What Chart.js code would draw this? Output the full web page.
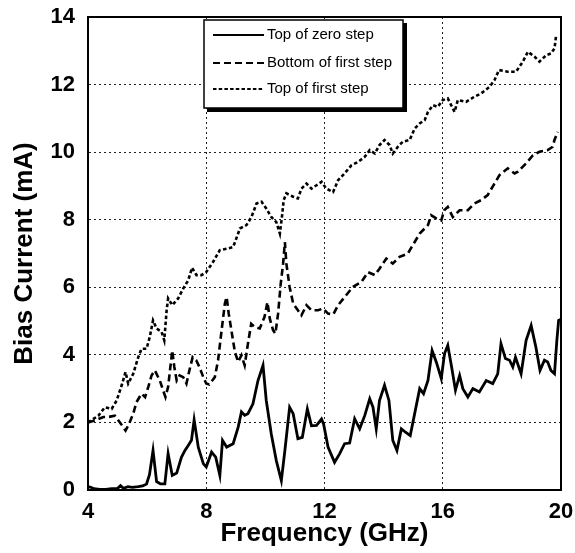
<!DOCTYPE html>
<html>
<head>
<meta charset="utf-8">
<script src="https://cdn.jsdelivr.net/npm/chart.js@4/dist/chart.umd.min.js"></script>
<style>
  html, body { margin: 0; padding: 0; background: #fff; }
  #wrap { width: 575px; height: 553px; }
</style>
</head>
<body>
<div id="wrap"><canvas id="c" width="575" height="553"></canvas></div>
<script>
// ---- Data ----
const seriesLabels = ["Top of zero step", "Bottom of first step", "Top of first step"];
const xTicks = [4, 8, 12, 16, 20];
const yTicks = [0, 2, 4, 6, 8, 10, 12, 14];

const zeroTopFreq = [4.0,4.1,4.2,4.4,4.6,4.8,5.0,5.1,5.2,5.35,5.5,5.7,5.85,5.98,6.08,6.2,6.32,6.45,6.6,6.71,6.85,7.0,7.16,7.28,7.39,7.5,7.59,7.73,7.9,8.0,8.18,8.32,8.46,8.55,8.69,8.91,9.08,9.19,9.3,9.41,9.58,9.75,9.92,10.03,10.2,10.37,10.54,10.66,10.82,10.94,11.1,11.25,11.42,11.56,11.73,11.9,11.97,12.12,12.34,12.51,12.68,12.85,13.02,13.19,13.36,13.53,13.64,13.75,13.86,14.03,14.18,14.31,14.45,14.6,14.74,14.9,15.05,15.22,15.35,15.5,15.64,15.78,15.95,16.06,16.17,16.29,16.43,16.57,16.68,16.85,17.02,17.24,17.47,17.69,17.86,17.97,18.12,18.26,18.37,18.46,18.65,18.82,18.99,19.15,19.29,19.44,19.55,19.66,19.78,19.86,19.92,20.0];
const zeroTopVal  = [0.10,0.08,0.04,0.02,0.02,0.04,0.05,0.13,0.05,0.10,0.08,0.10,0.12,0.18,0.45,1.17,0.25,0.18,0.18,1.08,0.43,0.50,0.97,1.17,1.32,1.47,2.08,1.27,0.78,0.68,1.12,0.97,0.43,1.47,1.27,1.37,1.86,2.31,2.21,2.26,2.55,3.24,3.69,2.65,1.66,0.87,0.28,1.17,2.45,2.26,1.52,1.56,2.40,1.90,1.91,2.10,1.95,1.27,0.82,1.07,1.37,1.39,2.11,1.81,2.20,2.70,2.45,1.81,2.65,3.10,2.65,1.47,1.17,1.81,1.71,1.61,2.26,3.00,2.85,3.24,4.13,3.79,3.30,4.04,4.28,3.69,2.95,3.39,3.00,2.75,3.00,2.90,3.24,3.15,3.44,4.33,3.89,3.84,3.64,3.93,3.44,4.43,4.87,4.23,3.54,3.84,3.79,3.54,3.44,4.43,5.02,5.05];

const firstBottomFreq = [4.0,4.24,4.52,4.69,4.91,5.08,5.19,5.27,5.39,5.53,5.64,5.81,5.93,6.04,6.15,6.26,6.43,6.54,6.62,6.71,6.85,6.92,7.0,7.1,7.22,7.33,7.43,7.54,7.66,7.77,7.9,8.0,8.1,8.29,8.4,8.52,8.63,8.69,8.76,8.85,8.97,9.08,9.19,9.3,9.41,9.52,9.64,9.81,9.97,10.07,10.15,10.26,10.34,10.43,10.52,10.6,10.66,10.71,10.82,10.94,11.1,11.22,11.39,11.56,11.78,11.95,12.12,12.3,12.46,12.68,12.96,13.25,13.47,13.7,13.86,14.09,14.31,14.54,14.82,15.05,15.22,15.5,15.61,15.78,15.95,16.05,16.17,16.34,16.57,16.85,17.07,17.3,17.52,17.75,17.92,18.2,18.43,18.54,18.82,19.05,19.27,19.55,19.72,19.78,19.89];
const firstBottomVal  = [2.00,2.06,2.16,2.16,2.20,2.00,1.86,1.76,1.96,2.26,2.60,2.85,2.75,3.05,3.39,3.54,3.24,2.95,2.75,3.05,4.13,3.64,3.24,3.39,3.34,3.15,3.54,3.93,3.84,3.64,3.34,3.15,3.12,3.34,3.84,4.73,5.52,5.71,5.22,4.73,4.08,3.79,3.99,3.69,4.33,4.92,4.82,4.78,5.12,5.56,5.07,4.73,4.63,5.22,6.11,6.70,7.34,6.70,6.01,5.52,5.32,5.17,5.47,5.32,5.32,5.37,5.22,5.20,5.47,5.71,6.01,6.16,6.45,6.36,6.55,6.85,6.70,6.90,7.00,7.34,7.59,7.84,8.13,8.04,7.98,8.28,8.38,8.08,8.28,8.28,8.48,8.58,8.73,9.07,9.32,9.52,9.37,9.42,9.67,9.91,10.01,10.06,10.16,10.36,10.60];

const firstTopFreq = [4.0,4.35,4.57,4.8,4.97,5.14,5.27,5.36,5.53,5.7,5.81,5.98,6.09,6.2,6.32,6.49,6.58,6.66,6.71,6.85,7.05,7.22,7.39,7.52,7.67,7.84,8.0,8.23,8.46,8.74,8.91,9.14,9.36,9.53,9.7,9.87,10.03,10.2,10.37,10.49,10.56,10.62,10.71,10.94,11.1,11.22,11.39,11.56,11.73,11.9,12.06,12.29,12.46,12.68,12.91,13.13,13.36,13.53,13.7,13.86,14.03,14.2,14.31,14.48,14.65,14.88,15.05,15.22,15.39,15.5,15.67,15.83,16.0,16.17,16.4,16.51,16.79,17.07,17.3,17.58,17.75,17.9,18.2,18.48,18.71,18.88,19.1,19.27,19.5,19.66,19.78,19.83];
const firstTopVal  = [2.00,2.20,2.45,2.40,2.65,3.10,3.49,3.15,3.44,3.93,4.18,4.18,4.53,5.02,4.78,4.68,4.43,5.32,5.67,5.47,5.67,5.96,6.21,6.58,6.36,6.36,6.45,6.75,7.10,7.15,7.19,7.74,7.84,8.08,8.48,8.53,8.33,8.08,7.93,7.59,8.08,8.58,8.78,8.68,8.63,8.92,9.07,8.92,9.02,9.12,8.92,8.82,9.17,9.37,9.61,9.71,9.86,10.06,9.96,10.21,10.36,10.21,9.96,10.16,10.31,10.36,10.70,10.85,10.95,11.19,11.39,11.34,11.54,11.59,11.19,11.54,11.49,11.64,11.74,11.93,12.13,12.43,12.38,12.38,12.68,12.97,12.83,12.68,12.87,12.92,13.07,13.42];

const pts = (xs, ys) => xs.map((x, i) => ({x: x, y: ys[i]}));

const FONT = "'Liberation Sans', Arial, Helvetica, sans-serif";

const framePlugin = {
  id: 'frame',
  beforeDatasetsDraw(chart) {
    const a = chart.chartArea, ctx = chart.ctx;
    ctx.save();
    ctx.strokeStyle = '#000';
    ctx.lineWidth = 2;
    ctx.strokeRect(a.left, a.top, a.right - a.left, a.bottom - a.top);
    ctx.restore();
  }
};

const legendPlugin = {
  id: 'boxLegend',
  afterDraw(chart) {
    const ctx = chart.ctx;
    const bx = 204, by = 20, bw = 199, bh = 88;
    ctx.save();
    ctx.fillStyle = '#000';
    ctx.fillRect(bx + 3, by + 3, bw + 1, bh + 1);
    ctx.fillStyle = '#fff';
    ctx.fillRect(bx, by, bw, bh);
    ctx.strokeStyle = '#000';
    ctx.lineWidth = 1.5;
    ctx.strokeRect(bx, by, bw, bh);
    const rowsY = [35, 63, 89];
    chart.data.datasets.forEach((ds, i) => {
      const y = rowsY[i];
      ctx.beginPath();
      ctx.setLineDash(ds.legendDash || []);
      ctx.lineWidth = 2;
      ctx.strokeStyle = '#000';
      ctx.moveTo(213, y);
      ctx.lineTo(264, y);
      ctx.stroke();
      ctx.setLineDash([]);
      ctx.fillStyle = '#000';
      ctx.font = "15px " + FONT;
      ctx.textBaseline = 'middle';
      ctx.textAlign = 'left';
      ctx.fillText(ds.label, 267, y);
    });
    ctx.restore();
  }
};

function zeroPad(s) { s.paddingTop = 0; s.paddingBottom = 0; s.paddingLeft = 0; s.paddingRight = 0; }

new Chart(document.getElementById('c'), {
  type: 'line',
  data: {
    datasets: [
      { label: seriesLabels[0], data: pts(zeroTopFreq, zeroTopVal), borderColor: '#000', borderWidth: 2.8, pointRadius: 0, tension: 0, fill: false, legendDash: [] },
      { label: seriesLabels[1], data: pts(firstBottomFreq, firstBottomVal), borderColor: '#000', borderWidth: 2.6, borderDash: [7, 4], pointRadius: 0, tension: 0, fill: false, legendDash: [7, 4] },
      { label: seriesLabels[2], data: pts(firstTopFreq, firstTopVal), borderColor: '#000', borderWidth: 2.6, borderDash: [3.5, 2.5], pointRadius: 0, tension: 0, fill: false, legendDash: [3.5, 2.2] }
    ]
  },
  options: {
    responsive: false,
    animation: false,
    events: [],
    layout: { padding: { top: 17, right: 14, left: 0, bottom: 0 } },
    plugins: { legend: { display: false }, tooltip: { enabled: false } },
    scales: {
      x: {
        type: 'linear', min: 4, max: 20,
        afterBuildTicks: s => { s.ticks = xTicks.map(v => ({value: v})); },
        afterFit: s => { s.height = 63; zeroPad(s); },
        grid: { color: '#222', lineWidth: 1, drawTicks: false },
        border: { display: true, color: '#000', width: 2, dash: [2, 3] },
        ticks: { color: '#000', padding: 9, font: { family: FONT, size: 22, weight: 'bold' }, maxRotation: 0 },
        title: { display: true, text: 'Frequency (GHz)', color: '#000', font: { family: FONT, size: 26, weight: 'bold' }, padding: { top: 0, bottom: 4 } }
      },
      y: {
        type: 'linear', min: 0, max: 14,
        afterBuildTicks: s => { s.ticks = yTicks.map(v => ({value: v})); },
        afterFit: s => { s.width = 88; zeroPad(s); },
        grid: { color: '#222', lineWidth: 1, drawTicks: false },
        border: { display: true, color: '#000', width: 2, dash: [2, 3] },
        ticks: { color: '#000', padding: 13, font: { family: FONT, size: 22, weight: 'bold' } },
        title: { display: true, text: 'Bias Current (mA)', color: '#000', font: { family: FONT, size: 26, weight: 'bold' }, padding: { top: 9, bottom: 0 } }
      }
    }
  },
  plugins: [framePlugin, legendPlugin]
});
</script>
</body>
</html>
